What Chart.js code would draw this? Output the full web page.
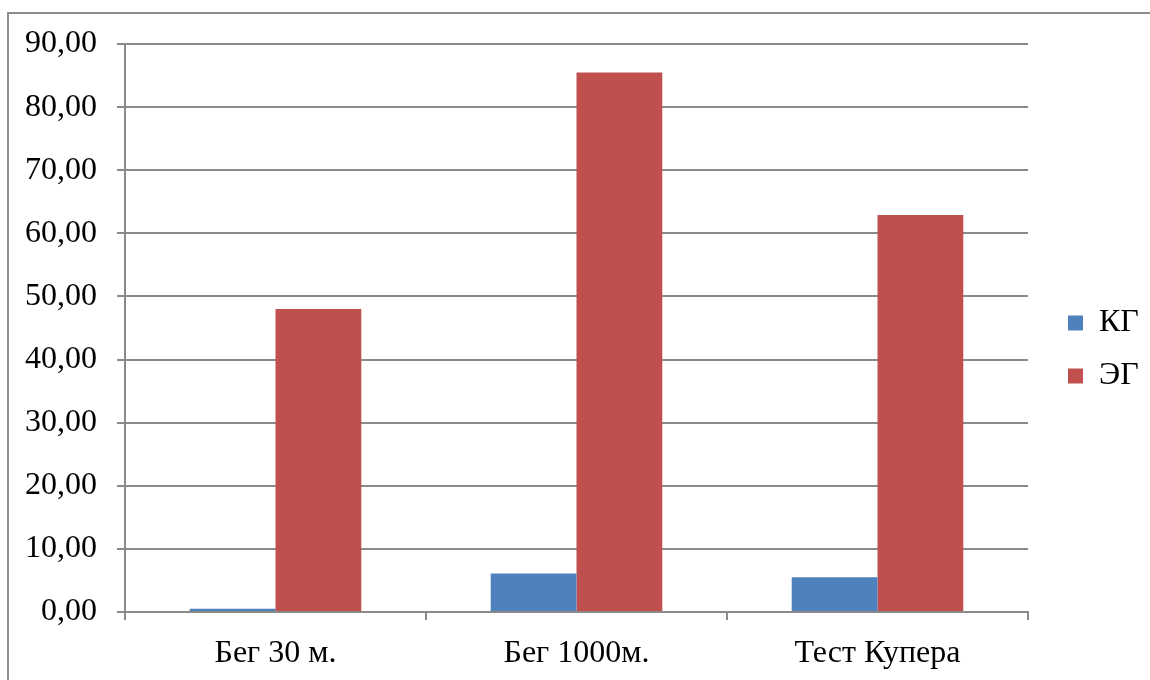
<!DOCTYPE html>
<html>
<head>
<meta charset="utf-8">
<script src="https://cdn.jsdelivr.net/npm/chart.js@4"></script>
<style>
  body { margin: 0; background: #fff; overflow: hidden; }
  #frame { position: absolute; left: 7px; top: 12px; width: 1200px; height: 720px; border: 2px solid #8c8c8c; }
  #myChart { position: absolute; left: 0; top: 0; }
</style>
</head>
<body>
<div id="frame"></div>
<canvas id="myChart" width="1150" height="680"></canvas>
<script>
// Data
const categories = ['Бег 30 м.', 'Бег 1000м.', 'Тест Купера'];
const kgValues = [0.5, 6.1, 5.5];
const egValues = [48.0, 85.5, 62.9];
const seriesNames = ['КГ', 'ЭГ'];
const yMin = 0;
const yMax = 90;
const yStep = 10;

Chart.defaults.font.family = "'Liberation Serif', 'Times New Roman', serif";
Chart.defaults.font.size = 32;
Chart.defaults.color = '#000';

const gridColor = '#8a8a8a';

// Setup
const data = {
    labels: categories,
    datasets: [{
        label: seriesNames[0],
        data: kgValues,
        backgroundColor: '#4F81BD'
    }, {
        label: seriesNames[1],
        data: egValues,
        backgroundColor: '#C0504D'
    }]
};

// Put the legend where the original has it
const legendPlacer = {
    id: 'legendPlacer',
    afterLayout(chart) {
        const lg = chart.legend;
        lg.left = 1047;
        lg.right = 1150;
        lg.top = 286;
        lg.bottom = 612;
        lg.width = 103;
        lg.height = 326;
    }
};

// Config
const config = {
    type: 'bar',
    data,
    options: {
        responsive: false,
        animation: false,
        layout: {
            padding: { left: 25, top: 44, right: 122, bottom: 0 }
        },
        datasets: {
            bar: {
                categoryPercentage: 0.57,
                barPercentage: 1.0,
                borderWidth: 0
            }
        },
        plugins: {
            legend: {
                position: 'chartArea',
                align: 'start',
                labels: {
                    boxWidth: 15,
                    boxHeight: 15,
                    padding: 21,
                    color: '#000',
                    font: { size: 32 }
                }
            },
            tooltip: { enabled: false }
        },
        scales: {
            x: {
                grid: {
                    display: true,
                    offset: true,
                    drawOnChartArea: false,
                    drawTicks: true,
                    tickLength: 8,
                    color: gridColor,
                    lineWidth: 2
                },
                border: { color: gridColor, width: 2 },
                ticks: {
                    padding: 14,
                    font: { size: 32 },
                    maxRotation: 0
                },
                afterFit(scale) { scale.height = 68; }
            },
            y: {
                min: yMin,
                max: yMax,
                grid: {
                    color: gridColor,
                    lineWidth: 2,
                    tickLength: 8
                },
                border: { color: gridColor, width: 2 },
                ticks: {
                    stepSize: yStep,
                    padding: 20,
                    font: { size: 32 },
                    callback: function(value) {
                        return value.toFixed(2).replace('.', ',');
                    }
                },
                afterFit(scale) { scale.width = 100; }
            }
        }
    },
    plugins: [legendPlacer]
};

// Render init block
const myChart = new Chart(
    document.getElementById('myChart'),
    config
);
</script>
</body>
</html>
